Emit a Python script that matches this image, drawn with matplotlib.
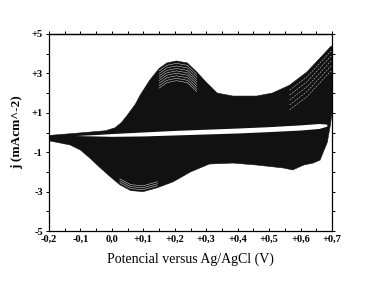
import numpy as np
import matplotlib.pyplot as plt
from matplotlib.ticker import MultipleLocator, FixedLocator

##################### data (V vs Ag/AgCl, mA cm^-2)

# outer anodic envelope (all cycles), left -> right
up_E = [-0.20, -0.10, -0.02, 0.01, 0.03, 0.05, 0.075, 0.09, 0.12, 0.15, 0.175,
        0.205, 0.24, 0.27, 0.30, 0.335, 0.385, 0.46, 0.51, 0.565, 0.62, 0.66, 0.695, 0.70]
up_j = [-0.15, -0.02, 0.09, 0.24, 0.50, 0.90, 1.45, 1.90, 2.65, 3.25, 3.53,
        3.63, 3.53, 3.07, 2.55, 2.00, 1.85, 1.85, 2.00, 2.40, 3.07, 3.75, 4.35, 4.40]

# outer cathodic envelope, left -> right
lo_E = [-0.20, -0.165, -0.133, -0.10, -0.07, -0.04, -0.005, 0.025, 0.06, 0.10, 0.145,
        0.195, 0.25, 0.31, 0.385, 0.46, 0.545, 0.575, 0.61, 0.64, 0.662, 0.672, 0.685, 0.695, 0.70]
lo_j = [-0.42, -0.53, -0.63, -0.89, -1.30, -1.75, -2.25, -2.65, -2.95, -3.00, -2.80,
        -2.50, -2.00, -1.60, -1.55, -1.65, -1.80, -1.90, -1.65, -1.55, -1.40, -1.00, -0.50, 0.40, 1.00]

# white gap between first anodic and first cathodic sweep
gap_E = [-0.115, -0.05, 0.0, 0.10, 0.20, 0.30, 0.40, 0.50, 0.60, 0.66, 0.685]
gap_top = [-0.18, -0.13, -0.08, 0.00, 0.08, 0.14, 0.20, 0.27, 0.36, 0.43, 0.40]
gap_bot = [-0.18, -0.20, -0.22, -0.20, -0.15, -0.10, -0.05, 0.02, 0.10, 0.18, 0.30]

# spacing between successive cycles where they separate (peaks)
an_peak_drop = [0.12, 0.25, 0.38, 0.50, 0.62, 0.75, 0.88, 1.00]
an_right_drop = [0.25, 0.5, 0.75, 1.0, 1.25]
cat_peak_rise = [0.10, 0.20, 0.30]

x_ticks = [-0.2, -0.1, 0.0, 0.1, 0.2, 0.3, 0.4, 0.5, 0.6, 0.7]
x_labels = ['-0,2', '-0,1', '0,0', '+0,1', '+0,2', '+0,3', '+0,4', '+0,5', '+0,6', '+0,7']
y_ticks = [-5, -3, -1, 1, 3, 5]
y_labels = ['-5', '-3', '-1', '+1', '+3', '+5']

##################### figure

plt.rcParams['font.family'] = ['Liberation Serif', 'DejaVu Serif']

fig = plt.figure(figsize=(3.75, 2.83), dpi=100)
ax = fig.add_axes([0.1307, 0.1837, 0.7547, 0.6962])

up_E = np.array(up_E); up_j = np.array(up_j)
lo_E = np.array(lo_E); lo_j = np.array(lo_j)

poly_x = np.concatenate([up_E, lo_E[::-1]])
poly_y = np.concatenate([up_j, lo_j[::-1]])
shape = ax.fill(poly_x, poly_y, color='#111111', lw=0.4, zorder=2)[0]

ax.fill(np.concatenate([gap_E, gap_E[::-1]]),
        np.concatenate([gap_top, gap_bot[::-1]]), color='white', lw=0, zorder=3)

# white gaps between cycles
sel = (up_E >= 0.15) & (up_E <= 0.27)
for d in an_peak_drop:
    l, = ax.plot(up_E[sel], up_j[sel] - d, color='white', lw=0.35, alpha=0.85, zorder=4)
    l.set_clip_path(shape)
sel = (up_E >= 0.56)
for d in an_right_drop:
    l, = ax.plot(up_E[sel], up_j[sel] - d, color='white', lw=0.35, alpha=0.85,
                 dashes=(4, 2), zorder=4)
    l.set_clip_path(shape)
sel = (lo_E >= 0.02) & (lo_E <= 0.15)
for d in cat_peak_rise:
    l, = ax.plot(lo_E[sel], lo_j[sel] + d, color='white', lw=0.35, alpha=0.9, zorder=4)
    l.set_clip_path(shape)

ax.set_xlim(-0.2, 0.7)
ax.set_ylim(-5, 5)

ax.set_xticks(x_ticks)
ax.set_xticklabels(x_labels, fontsize=7.5, fontweight='bold')
ax.xaxis.set_minor_locator(MultipleLocator(0.05))
ax.set_yticks(y_ticks)
ax.set_yticklabels(y_labels, fontsize=7.5, fontweight='bold')
ax.yaxis.set_minor_locator(MultipleLocator(1))

ax.tick_params(axis='x', which='both', direction='in', length=2.5, width=0.7, pad=3)
ax.tick_params(axis='y', which='both', direction='out', length=2.5, width=0.7, pad=2,
               right=True)

top = ax.secondary_xaxis('top')
top.xaxis.set_major_locator(FixedLocator(x_ticks))
top.xaxis.set_minor_locator(MultipleLocator(0.05))
top.tick_params(which='both', direction='out', length=2.5, width=0.7, labeltop=False)

for s in ax.spines.values():
    s.set_linewidth(0.9)
top.spines['top'].set_linewidth(0.9)

ax.set_xlabel('Potencial versus Ag/AgCl (V)', fontsize=10, labelpad=6)
ax.set_ylabel('j (mAcm^-2)', fontsize=9.5, fontweight='bold', labelpad=6)

fig.savefig('out.png', dpi=100)
